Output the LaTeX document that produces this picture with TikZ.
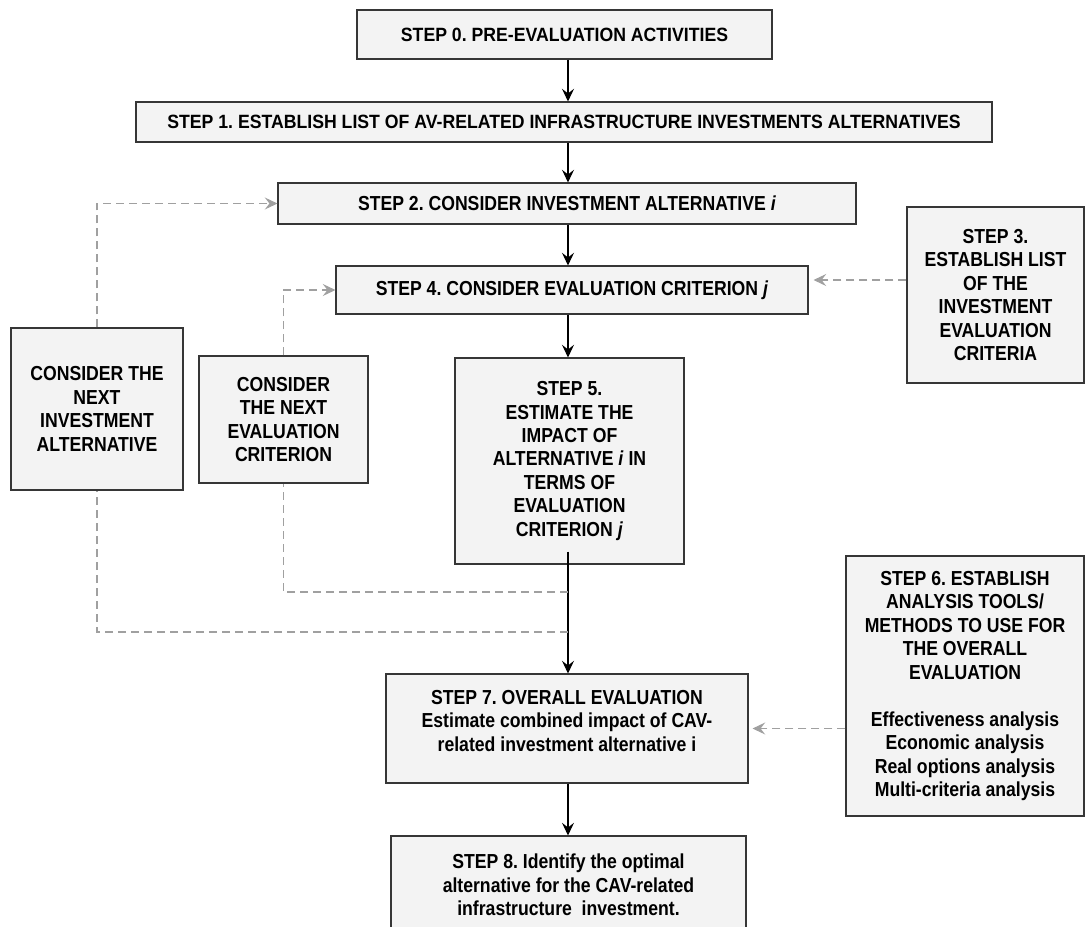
\documentclass[tikz,border=0pt]{standalone}
\usepackage{fontspec}
\setmainfont{Liberation Sans}[FakeStretch=0.87]
\newfontfamily\widefam{Liberation Sans}[FakeStretch=0.92]
\usetikzlibrary{arrows.meta,shadows}
\definecolor{boxfill}{HTML}{F3F3F3}
\definecolor{boxline}{HTML}{363636}
\definecolor{fbgray}{HTML}{A0A0A0}
\frenchspacing
\begin{document}
\begin{tikzpicture}[x=0.75pt,y=-0.75pt,
  box/.style={draw=boxline, fill=boxfill, line width=0.8pt, align=center,
    inner sep=0pt, font=\bfseries\fontsize{15.2}{17.6}\selectfont,
    drop shadow={shadow xshift=0.9pt, shadow yshift=-0.9pt, fill=black!55, opacity=0.6}},
  wh/.style n args={2}{minimum width=#1*0.75pt, minimum height=#2*0.75pt},
  smallfont/.style={font=\widefam\bfseries\fontsize{14.4}{16}\selectfont},
  tip/.style={-{Stealth[length=9.5pt,width=9pt,inset=3.5pt]}},
  arr/.style={tip, draw=black, line width=0.8pt},
  dashline/.style={draw=fbgray, line width=0.8pt, dash pattern=on 6pt off 3.75pt},
  dasharr/.style={dashline, tip}]
\useasboundingbox (0,0) rectangle (1086,926);
\clip (0,0) rectangle (1086,926);

% main column of steps
\node[box, smallfont, wh={415}{49}] (s0) at (564.5,34.5) {STEP 0. PRE-EVALUATION ACTIVITIES};
\node[box, smallfont, wh={856}{40}] (s1) at (564,122) {STEP 1. ESTABLISH LIST OF AV-RELATED INFRASTRUCTURE INVESTMENTS ALTERNATIVES};
\node[box, wh={578}{41}] (s2) at (567,203.5) {STEP 2. CONSIDER INVESTMENT ALTERNATIVE \textit{i}};
\node[box, wh={472}{48}] (s4) at (572,290) {STEP 4. CONSIDER EVALUATION CRITERION \textit{j}};
\node[box, wh={229}{206}] (s5) at (569.5,461) {STEP 5.\\ESTIMATE THE\\IMPACT OF\\ALTERNATIVE \textit{i} IN\\TERMS OF\\EVALUATION\\CRITERION \textit{j}};
\node[box, wh={362}{109}] (s7) at (567,728.5) {STEP 7. OVERALL EVALUATION\\Estimate combined impact of CAV-\\related investment alternative i\\[-5.6pt]\mbox{}};
\node[box, wh={355}{98}] (s8) at (568.5,885) {STEP 8. Identify the optimal\\alternative for the CAV-related\\infrastructure\ \ investment.};

% side inputs
\node[box, wh={177}{176}] (s3) at (995.5,295) {STEP 3.\\ESTABLISH LIST\\OF THE\\INVESTMENT\\EVALUATION\\CRITERIA};
\node[box, wh={238}{260}] (s6) at (965,686) {STEP 6. ESTABLISH\\ANALYSIS TOOLS/\\METHODS TO USE FOR\\THE OVERALL\\EVALUATION\\[17.6pt]Effectiveness analysis\\Economic analysis\\Real options analysis\\Multi-criteria analysis};

% feedback loops
\node[box, wh={172}{162}] (na) at (97,409) {CONSIDER THE\\NEXT\\INVESTMENT\\ALTERNATIVE};
\node[box, wh={169}{127}] (nc) at (283.5,419.5) {CONSIDER\\THE NEXT\\EVALUATION\\CRITERION};

\coordinate (col) at (568,0);
\coordinate (j1) at (568,592);
\coordinate (j2) at (568,632);
\coordinate (s5o) at ([yshift=9.75pt]s5.south);

\draw[arr] (s0.south -| col) -- (s1.north -| col);
\draw[arr] (s1.south -| col) -- (s2.north -| col);
\draw[arr] (s2.south -| col) -- (s4.north -| col);
\draw[arr] (s4.south -| col) -- (s5.north -| col);
\draw[arr] (s5o -| col) -- (s7.north -| col);
\draw[arr] (s7.south -| col) -- (s8.north -| col);

\draw[dashline] (j1) -| (nc.south);
\draw[dasharr] (nc.north) |- (s4.west);
\draw[dashline] (j2) -| (na.south);
\draw[dasharr] (na.north) |- (s2.west);

\coordinate (s3o) at ([yshift=11.25pt]s3.west);
\draw[dasharr, shorten >=3.75pt] (s3o) -- (s4.east |- s3o);
\draw[dasharr, shorten >=3pt] (s6.west |- s7.east) -- (s7.east);
\end{tikzpicture}
\end{document}
